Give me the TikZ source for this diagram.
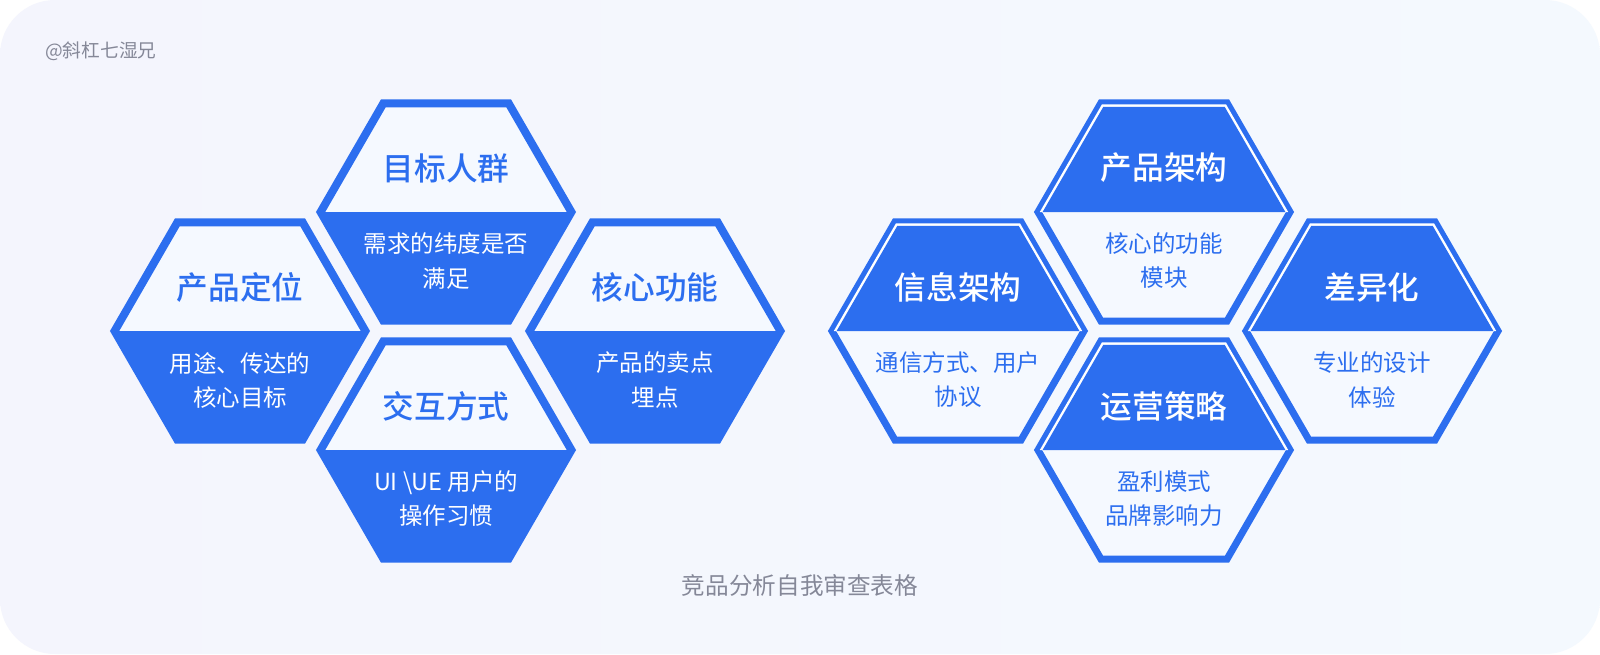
\documentclass[tikz,border=0pt]{standalone}
\usepackage{fontspec}
\setmainfont{Noto Sans CJK SC}[BoldFont={Noto Sans CJK SC Medium}]
\usepackage{xcolor}
\usepackage{tikz}
\definecolor{hexBlue}{HTML}{2C6EEF}
\definecolor{hexLight}{HTML}{F5F9FF}
\definecolor{bgLeft}{HTML}{F4F5FD}
\definecolor{bgRight}{HTML}{F4F9FE}
\definecolor{noteGray}{HTML}{858898}

\begin{document}
\begin{tikzpicture}[x=0.025cm, y=-0.025cm,
    headtext/.style={font=\bfseries\fontsize{22.5}{26}\selectfont, inner sep=0pt},
    bodytext/.style={font=\fontsize{16.7}{24.2}\selectfont, align=center, inner sep=0pt},
    note/.style={text=noteGray, inner sep=0pt}]
    \useasboundingbox (0,0) rectangle (1600,654);
    \fill[white] (0,0) rectangle (1600,654);
    \shade[left color=bgLeft, right color=bgRight, rounded corners=1.375cm] (0,0) rectangle (1600,654);
    \node[note, anchor=west, font=\fontsize{13.3}{15}\selectfont] (sign) at (45,51) {@斜杠七湿兄};

    % left group: light top half, blue bottom half
    \foreach \n/\cx/\cy/\htitle/\hbody in {
        pos/240/331/产品定位/{用途、传达的\\核心目标},
        user/446/212/目标人群/{需求的纬度是否\\满足},
        act/446/450/交互方式/{UI \textbackslash UE 用户的\\操作习惯},
        core/655/331/核心功能/{产品的卖点\\埋点}}{
        \begin{scope}[shift={(\cx,\cy)}]
            \fill[hexLight] (0:126) \foreach \a in {60,120,...,300}{ -- (\a:126)} -- cycle;
            \begin{scope}
                \clip (0:126) \foreach \a in {60,120,...,300}{ -- (\a:126)} -- cycle;
                \fill[hexBlue] (-130,0) rectangle (130,130);
            \end{scope}
            \draw[hexBlue, line width=5.7pt] (0:125.4) \foreach \a in {60,120,...,300}{ -- (\a:125.4)} -- cycle;
            \node[headtext, text=hexBlue] (\n-head) at (0,-44) {\htitle};
            \node[bodytext, text=white] (\n-body) at (0,49) {\hbody};
        \end{scope}
    }

    % right group: blue top half with white inner line, light bottom half
    \foreach \n/\cx/\cy/\htitle/\hbody in {
        info/958/331/信息架构/{通信方式、用户\\协议},
        arch/1164/212/产品架构/{核心的功能\\模块},
        ops/1164/450/运营策略/{盈利模式\\品牌影响力},
        diff/1372/331/差异化/{专业的设计\\体验}}{
        \begin{scope}[shift={(\cx,\cy)}]
            \draw[hexBlue, line width=5pt, fill=hexLight] (0:126) \foreach \a in {60,120,...,300}{ -- (\a:126)} -- cycle;
            \fill[white] (180:124.2) -- (-120:124.2) -- (-60:124.2) -- (0:124.2) -- cycle;
            \fill[hexBlue] (180:121.4) -- (-120:121.4) -- (-60:121.4) -- (0:121.4) -- cycle;
            \node[headtext, text=white] (\n-head) at (0,-44) {\htitle};
            \node[bodytext, text=hexBlue] (\n-body) at (0,49) {\hbody};
        \end{scope}
    }

    \node[note, font=\fontsize{16.8}{20}\selectfont] (caption) at (800,585) {竞品分析自我审查表格};
\end{tikzpicture}
\end{document}
